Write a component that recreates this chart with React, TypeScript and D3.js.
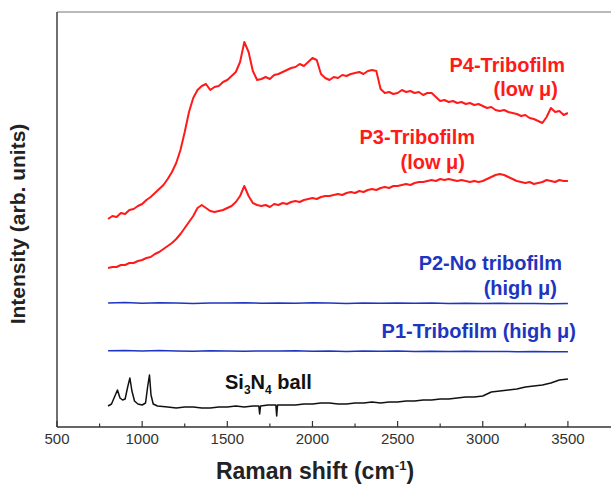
import React from "react";
import * as d3 from "d3";

const W = 611;
const H = 487;

// wavenumber grid for the sampled red spectra (cm^-1)
const redStart = 800;
const redStep = 25;

// P4-Tribofilm (low µ), intensity arb. units, sampled every 25 cm^-1 from 800
const p4Values = [208, 211, 210, 214, 213, 217, 218, 221, 223, 227, 230, 234, 238, 242, 248, 255, 264, 277, 295, 315, 329, 337, 341, 343, 337, 340, 341, 345, 347, 351, 355, 365, 385, 375, 356, 347, 348, 350, 348, 352, 353, 355, 357, 359, 360, 363, 361, 365, 369, 367, 353, 349, 347, 350, 349, 352, 351, 353, 354, 355, 353, 356, 357, 356, 338, 334, 335, 333, 334, 337, 335, 336, 334, 335, 332, 334, 334, 330, 326, 327, 325, 326, 324, 325, 323, 324, 322, 323, 321, 319, 320, 317, 316, 317, 315, 314, 313, 311, 312, 309, 308, 306, 304, 310, 319, 315, 316, 312, 314];

// P3-Tribofilm (low µ)
const p3Values = [159, 160, 160, 162, 162, 164, 164, 166, 167, 169, 170, 173, 175, 178, 181, 184, 188, 193, 199, 205, 211, 219, 222, 219, 216, 215, 216, 217, 219, 221, 225, 231, 241, 231, 224, 222, 221, 222, 220, 223, 222, 224, 223, 225, 226, 225, 227, 228, 229, 228, 230, 231, 231, 232, 233, 232, 234, 235, 234, 236, 235, 237, 238, 237, 239, 240, 239, 241, 241, 242, 243, 242, 244, 245, 245, 246, 247, 246, 248, 247, 248, 247, 246, 247, 246, 245, 246, 245, 246, 248, 250, 252, 253, 252, 250, 248, 246, 245, 244, 245, 243, 244, 245, 247, 246, 245, 247, 246, 246];

// blue spectra sampled every 100 cm^-1 from 800
const blueStart = 800;
const blueStep = 100;
const p2Values = [124, 124.5, 123.8, 124.2, 124, 123.6, 124.1, 123.9, 124.3, 123.7, 124, 123.8, 124.2, 123.9, 123.6, 124, 123.8, 124.1, 123.7, 123.9, 123.6, 123.8, 123.5, 123.7, 123.4, 123.6, 123.3, 123.5];
const p1Values = [76.2, 76.5, 75.9, 76.4, 76.1, 75.8, 76.3, 76, 75.7, 76.1, 75.9, 76.2, 75.8, 76, 75.6, 75.9, 75.7, 76, 75.6, 75.8, 75.5, 75.7, 75.4, 75.6, 75.3, 75.5, 75.2, 75.2];

// Si3N4 ball: [wavenumber, intensity]
const si3n4Points: [number, number][] = [
  [800, 21], [820, 23], [840, 31], [855, 37], [870, 29], [885, 27], [900, 28], [915, 40], [928, 49], [940, 36], [955, 26], [975, 23],
  [1000, 22], [1020, 24], [1032, 40], [1043, 52], [1052, 32], [1065, 23], [1090, 21], [1150, 20], [1200, 19], [1250, 20], [1300, 20],
  [1350, 19], [1400, 19], [1450, 20], [1500, 20], [1550, 21], [1600, 20], [1650, 21], [1685, 21], [1690, 13], [1695, 21], [1740, 22],
  [1785, 22], [1790, 11], [1795, 22], [1850, 22], [1900, 22], [1950, 23], [2000, 23], [2050, 24], [2100, 24], [2150, 23], [2200, 23],
  [2250, 24], [2300, 24], [2350, 25], [2400, 24], [2450, 25], [2500, 25], [2550, 26], [2600, 26], [2650, 27], [2700, 27], [2750, 28],
  [2800, 28], [2850, 29], [2900, 30], [2950, 30], [3000, 31], [3050, 35], [3100, 36], [3150, 37], [3200, 38], [3250, 40], [3300, 41],
  [3350, 42], [3400, 44], [3450, 47], [3500, 48],
];

const xMajorTicks = [500, 1000, 1500, 2000, 2500, 3000, 3500];
const xMinorTicks = [750, 1250, 1750, 2250, 2750, 3250];

const RED = "#ff1a1a";
const BLUE = "#1e35c0";
const FONT = "'Liberation Sans', Arial, sans-serif";

export default function App() {
  const left = 57;
  const top = 12;
  const bottom = 427;
  const x = d3.scaleLinear().domain([500, 3753]).range([left, W]);
  const y = d3.scaleLinear().domain([0, 415]).range([bottom, top]);

  const line = d3
    .line<[number, number]>()
    .x((d) => x(d[0]))
    .y((d) => y(d[1]));

  const toPts = (vals: number[], start: number, step: number): [number, number][] =>
    vals.map((v, i) => [start + i * step, v]);

  const series = [
    { pts: toPts(p4Values, redStart, redStep), color: RED, w: 2 },
    { pts: toPts(p3Values, redStart, redStep), color: RED, w: 2 },
    { pts: toPts(p2Values, blueStart, blueStep), color: BLUE, w: 1.5 },
    { pts: toPts(p1Values, blueStart, blueStep), color: BLUE, w: 1.5 },
    { pts: si3n4Points, color: "#111", w: 1.5 },
  ];

  const label = { fontFamily: FONT, fontWeight: 700, fontSize: 20 } as const;

  return (
    <svg width={W} height={H} style={{ position: "absolute", left: 0, top: 0, background: "#fff" }}>
      <rect x={0} y={0} width={W} height={H} fill="#fff" />
      {/* frame */}
      <line x1={left} x2={W} y1={top} y2={top} stroke="#777" strokeWidth={1.2} />
      <line x1={left} x2={left} y1={top} y2={bottom} stroke="#333" strokeWidth={1.4} />
      <line x1={left} x2={W} y1={bottom} y2={bottom} stroke="#333" strokeWidth={1.4} />
      {xMajorTicks.map((t) => (
        <g key={t}>
          <line x1={x(t)} x2={x(t)} y1={bottom} y2={bottom - 6} stroke="#333" strokeWidth={1.2} />
          <text x={x(t)} y={bottom + 17} textAnchor="middle" fontFamily={FONT} fontSize={15} fill="#333">
            {t}
          </text>
        </g>
      ))}
      {xMinorTicks.map((t) => (
        <line key={t} x1={x(t)} x2={x(t)} y1={bottom} y2={bottom - 3.5} stroke="#333" strokeWidth={1.2} />
      ))}
      <text x={315} y={479} textAnchor="middle" fontFamily={FONT} fontWeight={700} fontSize={23} fill="#222">
        Raman shift (cm<tspan dy={-9} fontSize={13}>-1</tspan>
        <tspan dy={9}>)</tspan>
      </text>
      <text
        transform="translate(25,224) rotate(-90)"
        textAnchor="middle"
        fontFamily={FONT}
        fontWeight={700}
        fontSize={21}
        fill="#222"
      >
        Intensity (arb. units)
      </text>

      {series.map((s, i) => (
        <path key={i} d={line(s.pts) || ""} fill="none" stroke={s.color} strokeWidth={s.w} strokeLinejoin="round" />
      ))}

      {/* labels */}
      <text x={565} y={72} textAnchor="end" {...label} fill={RED}>P4-Tribofilm</text>
      <text x={558} y={96} textAnchor="end" {...label} fill={RED}>(low μ)</text>
      <text x={475} y={144} textAnchor="end" {...label} fill={RED}>P3-Tribofilm</text>
      <text x={465} y={169} textAnchor="end" {...label} fill={RED}>(low μ)</text>
      <text x={562} y={270} textAnchor="end" {...label} fill={BLUE}>P2-No tribofilm</text>
      <text x={557} y={295} textAnchor="end" {...label} fill={BLUE}>(high μ)</text>
      <text x={576} y={338} textAnchor="end" {...label} fill={BLUE}>P1-Tribofilm (high μ)</text>
      <text x={225} y={389} {...label} fill="#111">
        Si<tspan dy={5} fontSize={12}>3</tspan>
        <tspan dy={-5}>N</tspan>
        <tspan dy={5} fontSize={12}>4</tspan>
        <tspan dy={-5}> ball</tspan>
      </text>
    </svg>
  );
}
